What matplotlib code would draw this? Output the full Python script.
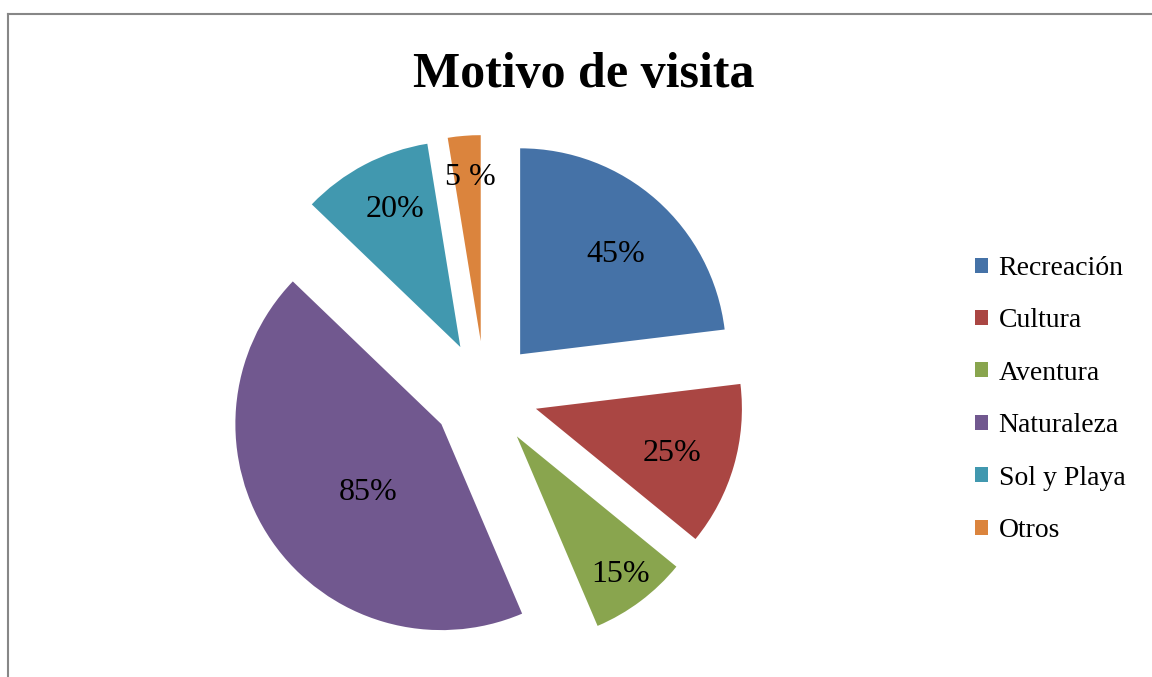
import numpy as np
import matplotlib.pyplot as plt
from matplotlib.lines import Line2D

# Datos del gráfico
categorias = ['Recreación', 'Cultura', 'Aventura', 'Naturaleza', 'Sol y Playa', 'Otros']
valores = [45, 25, 15, 85, 20, 5]
etiquetas = ['45%', '25%', '15%', '85%', '20%', '5 %']

colores = ['#4572A7', '#AA4643', '#89A54E', '#71588F', '#4198AF', '#DB843D']
# posición de cada etiqueta dentro de su porción (fracción del radio, giro en grados)
dist_etiqueta = [0.69, 0.69, 0.82, 0.47, 0.76, 0.82]
giro_etiqueta = [-1, 0, 1, 6, -3, -1]

plt.rcParams['font.family'] = ['Liberation Serif', 'DejaVu Serif']

W, H = 1152, 677
fig = plt.figure(figsize=(W / 100, H / 100), dpi=100)
ax = fig.add_axes([0, 0, 1, 1])

radio = 206
centro = (485, H - 394)
wedges, _ = ax.pie(valores, colors=colores, startangle=90, counterclock=False,
                   radius=radio, center=centro, explode=[53] * len(valores),
                   wedgeprops=dict(linewidth=0))

for w, txt, d, g in zip(wedges, etiquetas, dist_etiqueta, giro_etiqueta):
    ang = np.deg2rad((w.theta1 + w.theta2) / 2 + g)
    cx, cy = w.center
    ax.text(cx + d * w.r * np.cos(ang), cy + d * w.r * np.sin(ang) - 5, txt,
            ha='center', va='center', fontsize=23, color='black')

ax.set_xlim(0, W)
ax.set_ylim(0, H)
ax.set_aspect('equal')
ax.axis('off')

fig.text(584 / W, 1 - 87 / H, 'Motivo de visita', ha='center', va='baseline',
         fontsize=36, fontweight='bold')

ax.legend(wedges, categorias, loc='center left', bbox_to_anchor=(975 / W, 1 - 399.5 / H),
          bbox_transform=fig.transFigure, frameon=False, fontsize=20,
          handlelength=0.45, handleheight=0.45, handletextpad=0.4,
          labelspacing=0.987, borderpad=0, borderaxespad=0)

# marco del gráfico
fig.add_artist(Line2D([8 / W, 1], [1 - 14 / H, 1 - 14 / H], color='#878787', lw=1.5))
fig.add_artist(Line2D([8 / W, 8 / W], [0, 1 - 14 / H], color='#878787', lw=1.5))

fig.savefig('out.png', dpi=100, facecolor='white')
